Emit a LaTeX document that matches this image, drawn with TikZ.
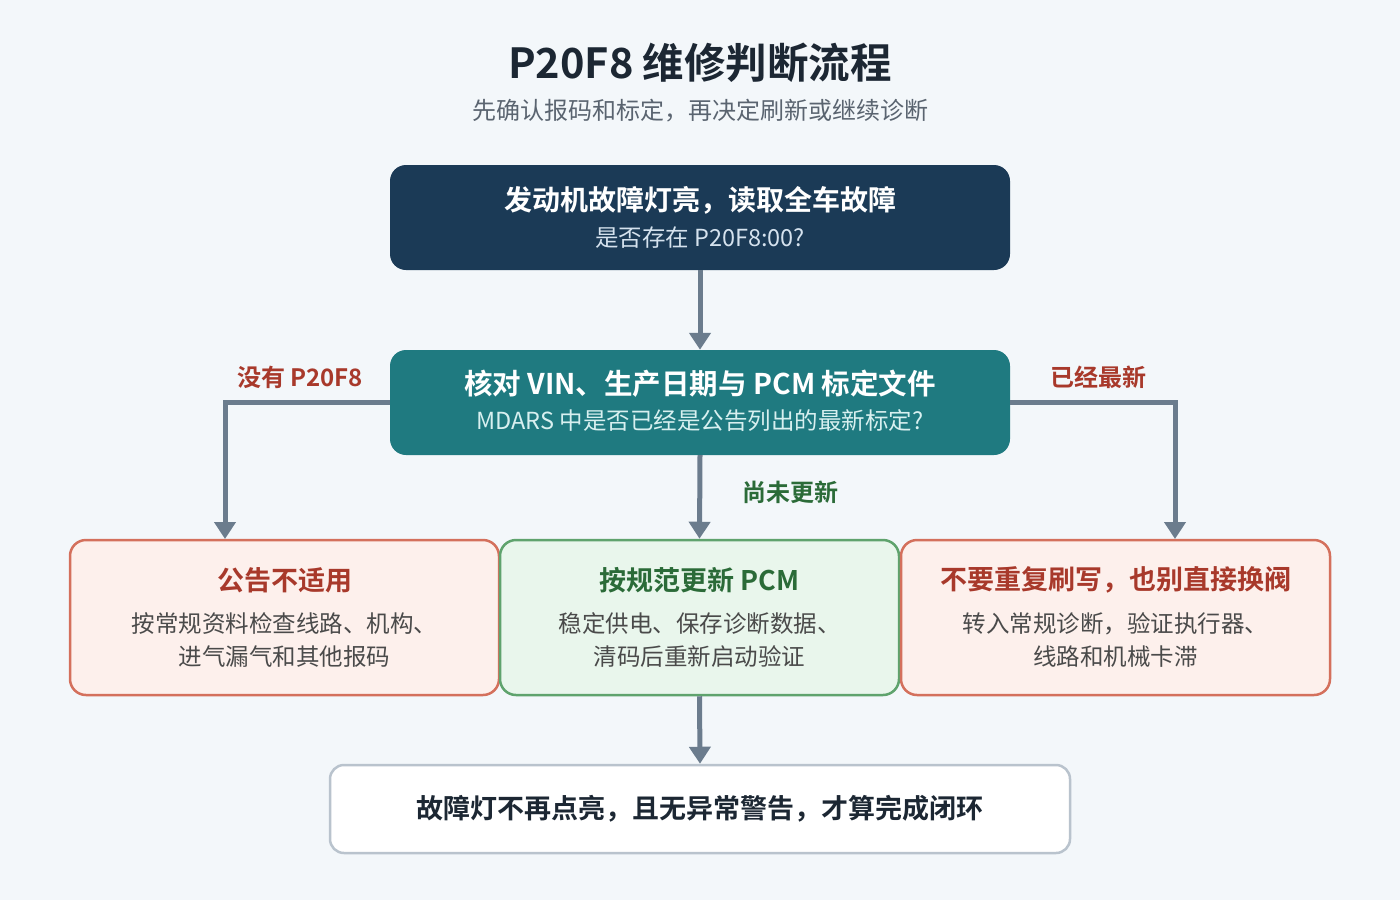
\documentclass[tikz,border=0pt]{standalone}
\usepackage{fontspec}
\setmainfont{Noto Sans CJK SC}[BoldFont={Noto Sans CJK SC Bold}]
\usetikzlibrary{arrows.meta}
\definecolor{bgc}{HTML}{F3F7FA}
\definecolor{navy}{HTML}{1B3A56}
\definecolor{teal}{HTML}{1F7A80}
\definecolor{arrc}{HTML}{6B7C8D}
\definecolor{redb}{HTML}{D4705C}
\definecolor{redf}{HTML}{FDF0EC}
\definecolor{redt}{HTML}{A8392B}
\definecolor{greenb}{HTML}{5FA36D}
\definecolor{greenf}{HTML}{E9F6EC}
\definecolor{greent}{HTML}{2B6B38}
\definecolor{bodyc}{HTML}{4A4A4A}
\definecolor{titc}{HTML}{1C2733}
\definecolor{subc}{HTML}{5A6470}
\definecolor{finb}{HTML}{B9C3CD}
\definecolor{lightA}{HTML}{D5E2EE}
\definecolor{lightB}{HTML}{D8F0F0}
\newcommand{\fs}[1]{\fontsize{#1}{#1}\selectfont}
\tikzset{
  x=1pt,y=-1pt,
  boxshape/.style={rounded corners=16pt, inner sep=0pt},
  darkbox/.style={boxshape, fill=navy},
  tealbox/.style={boxshape, fill=teal},
  redbox/.style={boxshape, fill=redf, draw=redb, line width=2.5pt},
  greenbox/.style={boxshape, fill=greenf, draw=greenb, line width=2.5pt},
  finbox/.style={boxshape, rounded corners=14pt, fill=white, draw=finb, line width=2.5pt},
  txt/.style={inner sep=0pt, align=center},
  conn/.style={draw=arrc, line width=5pt, -{Triangle[width=21pt,length=17pt]}},
}
\begin{document}
\begin{tikzpicture}
\fill[bgc] (0,0) rectangle (1400,900);
\useasboundingbox (0,0) rectangle (1400,900);

% title
\node[txt, text=titc] (title) at (700,63) {\fs{41.5}\bfseries P20F8 维修判断流程};
\node[txt, text=subc] (subtitle) at (700,111) {\fs{24}先确认报码和标定，再决定刷新或继续诊断};

% box 1
\node[darkbox, minimum width=620pt, minimum height=105pt] (b1) at (700,217.5) {};
\node[txt, text=white] (b1t) at (700,200) {\fs{28}\bfseries 发动机故障灯亮，读取全车故障};
\node[txt, text=lightA] (b1s) at (700,238) {\fs{23.5}是否存在 P20F8:00?};

% box 2
\node[tealbox, minimum width=620pt, minimum height=105pt] (b2) at (700,402.5) {};
\node[txt, text=white] (b2t) at (700,384) {\fs{28.5}\bfseries 核对 VIN、生产日期与 PCM 标定文件};
\node[txt, text=lightB] (b2s) at (700,421) {\fs{23.5}MDARS 中是否已经是公告列出的最新标定?};

% bottom boxes
\node[redbox, minimum width=429pt, minimum height=155pt] (bl) at (284.5,617.5) {};
\node[txt, text=redt] (blt) at (284.5,580) {\fs{27}\bfseries 公告不适用};
\node[txt, text=bodyc] (bl1) at (284.5,624) {\fs{23.5}按常规资料检查线路、机构、};
\node[txt, text=bodyc] (bl2) at (284.5,657) {\fs{23.5}进气漏气和其他报码};

\node[greenbox, minimum width=399pt, minimum height=155pt] (bm) at (699.5,617.5) {};
\node[txt, text=greent] (bmt) at (699.5,580) {\fs{27}\bfseries 按规范更新 PCM};
\node[txt, text=bodyc] (bm1) at (699.5,624) {\fs{23.5}稳定供电、保存诊断数据、};
\node[txt, text=bodyc] (bm2) at (699.5,657) {\fs{23.5}清码后重新启动验证};

\node[redbox, minimum width=429pt, minimum height=155pt] (br) at (1115.5,617.5) {};
\node[txt, text=redt] (brt) at (1115.5,580) {\fs{27}\bfseries 不要重复刷写，也别直接换阀};
\node[txt, text=bodyc] (br1) at (1115.5,624) {\fs{23.5}转入常规诊断，验证执行器、};
\node[txt, text=bodyc] (br2) at (1115.5,657) {\fs{23.5}线路和机械卡滞};

% final box
\node[finbox, minimum width=740pt, minimum height=88pt] (fin) at (700,809) {};
\node[txt, text=titc] (fint) at (700,809) {\fs{27}\bfseries 故障灯不再点亮，且无异常警告，才算完成闭环};

% connectors
\coordinate (lt) at (225,539);
\coordinate (rt) at (1175,539);
\draw[conn] (b1.south) -- (b2.north);
\draw[conn] (b2.south) -- (bm.north);
\draw[conn] (b2.west) -| (lt);
\draw[conn] (b2.east) -| (rt);
\draw[conn] (bm.south) -- (fin.north);

% labels
\node[txt, text=redt] (lab1) at (300,377) {\fs{24}\bfseries 没有 P20F8};
\node[txt, text=redt] (lab2) at (1098,377) {\fs{24}\bfseries 已经最新};
\node[txt, text=greent] (lab3) at (790,492) {\fs{24}\bfseries 尚未更新};
\end{tikzpicture}
\end{document}
